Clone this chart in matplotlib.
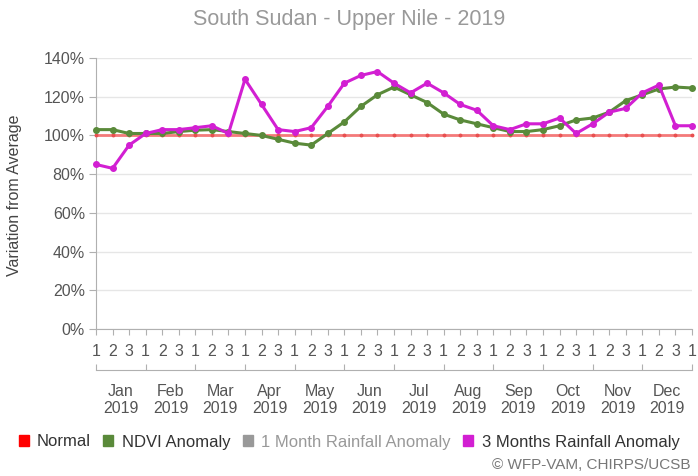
import matplotlib
matplotlib.use("Agg")
import matplotlib.pyplot as plt
from matplotlib.patches import Patch
import numpy as np

plt.rcParams['font.family'] = ['Liberation Sans', 'DejaVu Sans']

months = ["Jan", "Feb", "Mar", "Apr", "May", "Jun", "Jul", "Aug", "Sep", "Oct", "Nov", "Dec"]
year = "2019"
dekad_labels = ["1", "2", "3"] * 12 + ["1"]

normal = [100] * 37
ndvi = [103, 103, 101, 101, 101, 102, 102.7, 103, 102, 101, 100, 98, 96, 95, 101, 107,
        115, 121, 125, 121, 117, 111, 108, 106, 104, 102, 102, 103, 105, 108, 109, 112,
        118, 121, 124, 125, 124.5]
rain3 = [85, 83, 95, 101, 103, 103, 104, 105, 101, 129, 116, 103, 102, 104, 115, 127,
         131, 133, 127, 122, 127, 122, 116, 113, 105, 103, 106, 106, 109, 101, 106, 112,
         114, 122, 126, 105, 105]
yticks = [0, 20, 40, 60, 80, 100, 120, 140]

W, H = 698, 476
fig = plt.figure(figsize=(W / 100, H / 100), dpi=100)
ax = fig.add_axes([96 / W, 1 - 329 / H, 596 / W, 271 / H])

x = np.arange(len(ndvi))
c_red = "#f47a7a"
c_green = "#5a8a3a"
c_mag = "#d21fd2"
ax.plot(x, normal, color=c_red, lw=2.0, marker='o', ms=1.8, mfc="#e85050", mec="#e85050", clip_on=False, zorder=3)
ax.plot(x, ndvi, color=c_green, lw=2.2, marker='o', ms=4, clip_on=False, zorder=4)
ax.plot(x, rain3, color=c_mag, lw=2.2, marker='o', ms=4, clip_on=False, zorder=5)

FS = 11.5
ax.set_xlim(0, len(ndvi) - 1)
ax.set_ylim(0, 140)
ax.set_yticks(yticks)
ax.set_yticklabels([f"{v}%" for v in yticks])
ax.set_xticks(x)
ax.set_xticklabels(dekad_labels)
ax.grid(axis='y', color="#e6e6e6", lw=1)
ax.set_axisbelow(True)
for s in ["top", "right"]:
    ax.spines[s].set_visible(False)
ax.spines["left"].set_color("#b0b0b0")
ax.spines["bottom"].set_color("#b0b0b0")
ax.tick_params(axis='y', length=5, color="#b0b0b0", labelsize=FS, labelcolor="#555555", pad=3)
ax.tick_params(axis='x', length=4, color="#b0b0b0", labelsize=FS, labelcolor="#555555", pad=7)

# month axis
ax2 = ax.twiny()
ax2.set_xlim(ax.get_xlim())
ax2.xaxis.set_ticks_position('bottom')
ax2.xaxis.set_label_position('bottom')
ax2.spines['bottom'].set_position(('outward', 29.5))
ax2.spines['bottom'].set_color("#b0b0b0")
for s in ["top", "right", "left"]:
    ax2.spines[s].set_visible(False)
ax2.set_xticks(np.arange(0, 37, 3))
ax2.set_xticklabels([])
ax2.set_xticks(np.arange(1.5, 36, 3), minor=True)
ax2.set_xticklabels([f"{m}\n{year}" for m in months], minor=True)
ax2.tick_params(axis='x', which='major', direction='in', length=4, color="#b0b0b0")
ax2.tick_params(axis='x', which='minor', length=0, labelsize=FS, labelcolor="#555555", pad=10)
for t in ax2.xaxis.get_minorticklabels():
    t.set_linespacing(1.2)

fig.text(0.5, 1 - 19 / H, "South Sudan - Upper Nile - 2019", ha='center', va='center',
         fontsize=15.5, color="#999999")
fig.text(15 / W, 1 - 195 / H, "Variation from Average", rotation=90, ha='center', va='center',
         fontsize=FS, color="#444444")
fig.text(690 / W, 1 - 465 / H, "© WFP-VAM, CHIRPS/UCSB", ha='right', va='center',
         fontsize=11, color="#777777")

handles = [Patch(color="#ff0000"), Patch(color=c_green), Patch(color="#999999"), Patch(color=c_mag)]
labels = ["Normal", "NDVI Anomaly", "1 Month Rainfall Anomaly", "3 Months Rainfall Anomaly"]
leg = fig.legend(handles, labels, loc='center', bbox_to_anchor=(349 / W, 1 - 442 / H), ncol=4,
                 frameon=False, fontsize=12, handlelength=0.6, handleheight=0.6,
                 handletextpad=0.5, columnspacing=0.75)
for i, t in enumerate(leg.get_texts()):
    t.set_color("#999999" if i == 2 else "#333333")

fig.savefig("out.png", dpi=100)
